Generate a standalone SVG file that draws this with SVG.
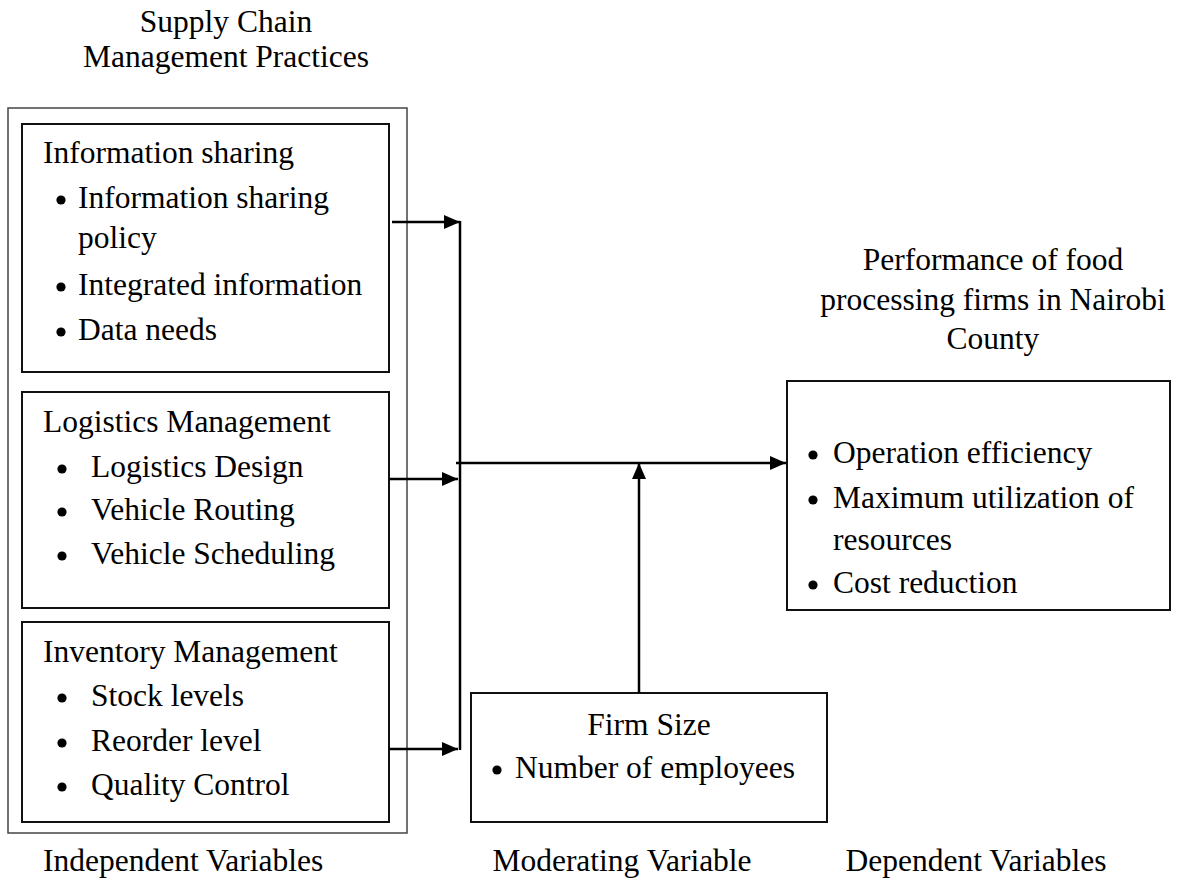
<svg xmlns="http://www.w3.org/2000/svg" width="1182" height="879" viewBox="0 0 1182 879">
  <style>
    text { font-family: "Liberation Serif", "Times New Roman", serif; font-size: 31.5px; fill: #000; }
    .mid { text-anchor: middle; }
    .box { fill: #fff; stroke: #111; stroke-width: 2; }
    .frame { fill: none; stroke: #444; stroke-width: 1.5; }
    .link { fill: none; stroke: #000; stroke-width: 2.5; }
    .arrow { fill: none; stroke: #000; stroke-width: 2.5; marker-end: url(#head); }
  </style>
  <defs>
    <marker id="head" markerUnits="userSpaceOnUse" viewBox="0 0 16 14" refX="16" refY="7" markerWidth="16" markerHeight="14" orient="auto">
      <path d="M0,0 L16,7 L0,14 z" fill="#000"/>
    </marker>
    <!-- list bullet -->
    <circle id="bullet" cx="0" cy="0" r="4.6" fill="#000"/>
  </defs>
  <rect width="1182" height="879" fill="#fff"/>

  <!-- Independent variables: supply chain management practices -->
  <g id="practices-header">
    <text class="mid" x="226" y="32">Supply Chain</text>
    <text class="mid" x="226" y="67">Management Practices</text>
  </g>
  <rect id="practices-frame" class="frame" x="8" y="108" width="399" height="725"/>

  <g id="information-sharing">
    <rect class="box" x="22" y="124" width="367" height="248"/>
    <text x="43" y="163">Information sharing</text>
    <use href="#bullet" x="61" y="200"/><text x="78" y="208">Information sharing</text>
    <text x="78" y="248">policy</text>
    <use href="#bullet" x="61" y="287"/><text x="78" y="295">Integrated information</text>
    <use href="#bullet" x="61" y="332"/><text x="78" y="340">Data needs</text>
  </g>

  <g id="logistics-management">
    <rect class="box" x="22" y="392" width="367" height="216"/>
    <text x="43" y="432">Logistics Management</text>
    <use href="#bullet" x="62" y="469"/><text x="91" y="477">Logistics Design</text>
    <use href="#bullet" x="62" y="512"/><text x="91" y="520">Vehicle Routing</text>
    <use href="#bullet" x="62" y="556"/><text x="91" y="564">Vehicle Scheduling</text>
  </g>

  <g id="inventory-management">
    <rect class="box" x="22" y="622" width="367" height="200"/>
    <text x="43" y="662">Inventory Management</text>
    <use href="#bullet" x="62" y="698"/><text x="91" y="706">Stock levels</text>
    <use href="#bullet" x="62" y="743"/><text x="91" y="751">Reorder level</text>
    <use href="#bullet" x="62" y="787"/><text x="91" y="795">Quality Control</text>
  </g>

  <!-- Moderating variable -->
  <g id="firm-size">
    <rect class="box" x="471" y="693" width="356" height="129"/>
    <text class="mid" x="649" y="735">Firm Size</text>
    <use href="#bullet" x="497" y="770"/><text x="515" y="778">Number of employees</text>
  </g>

  <!-- Dependent variable -->
  <g id="performance">
    <text class="mid" x="993" y="270">Performance of food</text>
    <text class="mid" x="993" y="310">processing firms in Nairobi</text>
    <text class="mid" x="993" y="349">County</text>
    <rect class="box" x="787" y="381" width="383" height="229"/>
    <use href="#bullet" x="813" y="455"/><text x="833" y="463">Operation efficiency</text>
    <use href="#bullet" x="813" y="500"/><text x="833" y="508">Maximum utilization of</text>
    <text x="833" y="550">resources</text>
    <use href="#bullet" x="813" y="585"/><text x="833" y="593">Cost reduction</text>
  </g>

  <!-- Variable type labels -->
  <g id="labels">
    <text x="43" y="871">Independent Variables</text>
    <text class="mid" x="622" y="871">Moderating Variable</text>
    <text class="mid" x="976" y="871">Dependent Variables</text>
  </g>

  <!-- Connectors -->
  <g id="connectors">
    <path class="arrow" d="M392,222 H460"/>
    <path class="arrow" d="M389,479 H458"/>
    <path class="arrow" d="M389,749 H458"/>
    <path class="link" d="M460,221 V750"/>
    <path class="arrow" d="M456,463 H786"/>
    <path class="arrow" d="M639,693 V463"/>
  </g>
</svg>
